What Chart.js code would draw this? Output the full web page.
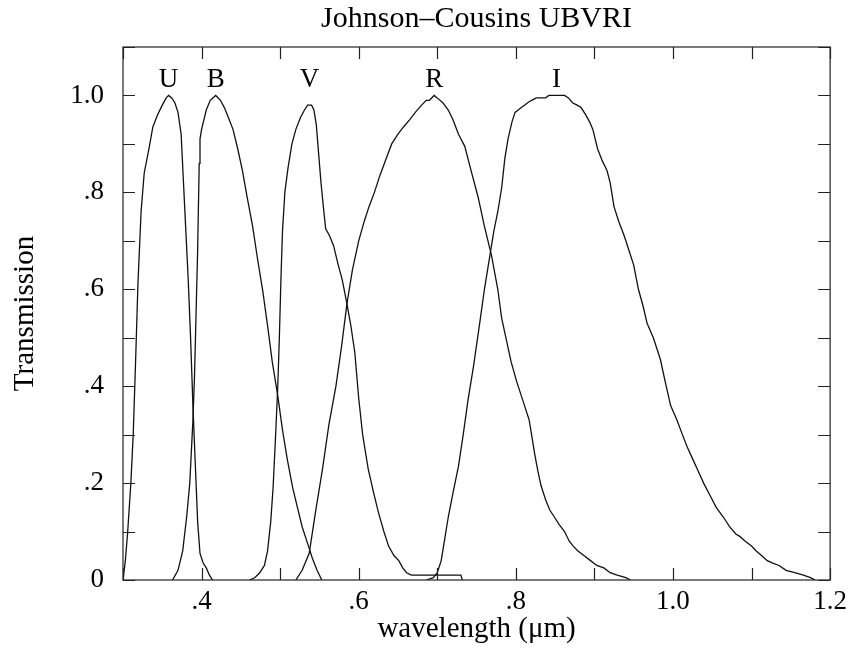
<!DOCTYPE html>
<html lang="en">
<head>
<meta charset="UTF-8">
<title>Johnson–Cousins UBVRI</title>
<style>
  html, body { margin: 0; padding: 0; background: #fff; }
  #Chart { width: 853px; height: 653px; }
</style>
</head>
<body>
<div id="Chart"><canvas id="myChart"></canvas></div>
<script src="https://cdn.jsdelivr.net/npm/chart.js"></script>
<script>
const chartTitle = 'Johnson–Cousins UBVRI';
// filter names (drawn above each peak)
const bandNames = ['U', 'B', 'V', 'R', 'I'];

// wavelength (um) / transmission
const uWave  = [0.300, 0.303, 0.306, 0.310, 0.313, 0.316, 0.319, 0.323, 0.327, 0.333, 0.338, 0.344, 0.350, 0.355, 0.358,
                0.362, 0.366, 0.370, 0.374, 0.377, 0.380, 0.383, 0.386, 0.389, 0.392, 0.395, 0.398, 0.402, 0.406, 0.410, 0.414];
const uTrans = [0.00, 0.04, 0.10, 0.20, 0.30, 0.45, 0.61, 0.76, 0.84, 0.89, 0.935, 0.96, 0.98, 0.995, 1.00,
                0.995, 0.985, 0.965, 0.92, 0.82, 0.72, 0.62, 0.50, 0.36, 0.24, 0.12, 0.055, 0.035, 0.025, 0.01, 0.00];

const bWave  = [0.363, 0.370, 0.376, 0.381, 0.385, 0.389, 0.391, 0.393, 0.395, 0.397, 0.398, 0.400, 0.403, 0.406, 0.411,
                0.418, 0.424, 0.429, 0.434, 0.440, 0.446, 0.452, 0.458, 0.465, 0.471, 0.478, 0.484, 0.490, 0.497,
                0.503, 0.509, 0.516, 0.522, 0.528, 0.535, 0.541, 0.547, 0.553];
const bTrans = [0.00, 0.02, 0.06, 0.13, 0.20, 0.33, 0.42, 0.55, 0.68, 0.86, 0.91, 0.93, 0.95, 0.97, 0.99,
                1.00, 0.99, 0.975, 0.955, 0.93, 0.89, 0.845, 0.79, 0.73, 0.665, 0.595, 0.525, 0.45, 0.38,
                0.31, 0.25, 0.19, 0.15, 0.11, 0.075, 0.045, 0.02, 0.00];

const vWave  = [0.461, 0.468, 0.474, 0.480, 0.484, 0.488, 0.491, 0.494, 0.497, 0.499, 0.501, 0.503, 0.506, 0.510, 0.515,
                0.520, 0.526, 0.531, 0.535, 0.540, 0.543, 0.546, 0.549, 0.552, 0.555, 0.558, 0.563, 0.568, 0.574,
                0.579, 0.585, 0.590, 0.595, 0.600, 0.605, 0.612, 0.619, 0.625, 0.632, 0.638, 0.645, 0.651, 0.656,
                0.661, 0.667, 0.700, 0.730, 0.732];
const vTrans = [0.00, 0.005, 0.015, 0.03, 0.06, 0.12, 0.19, 0.29, 0.40, 0.50, 0.62, 0.72, 0.80, 0.85, 0.90,
                0.93, 0.955, 0.97, 0.98, 0.98, 0.97, 0.94, 0.88, 0.82, 0.77, 0.725, 0.71, 0.69, 0.65,
                0.62, 0.57, 0.525, 0.47, 0.375, 0.30, 0.23, 0.18, 0.14, 0.10, 0.07, 0.05, 0.04, 0.025,
                0.015, 0.01, 0.01, 0.01, 0.00];

const rWave  = [0.520, 0.528, 0.537, 0.545, 0.554, 0.562, 0.571, 0.578, 0.585, 0.592, 0.600, 0.607, 0.613, 0.620, 0.627,
                0.635, 0.642, 0.650, 0.657, 0.665, 0.672, 0.680, 0.686, 0.690, 0.696, 0.700, 0.707, 0.714, 0.720,
                0.727, 0.735, 0.743, 0.752, 0.760, 0.769, 0.777, 0.782, 0.786, 0.794, 0.801, 0.807, 0.813, 0.817,
                0.820, 0.824, 0.828, 0.832, 0.838, 0.843, 0.849, 0.855, 0.862, 0.868, 0.873, 0.879, 0.887, 0.895,
                0.903, 0.912, 0.920, 0.929, 0.940, 0.946];
const rTrans = [0.00, 0.02, 0.055, 0.14, 0.23, 0.32, 0.40, 0.48, 0.57, 0.64, 0.70, 0.74, 0.77, 0.80, 0.835,
                0.87, 0.90, 0.92, 0.935, 0.95, 0.965, 0.98, 0.99, 0.99, 1.00, 0.995, 0.985, 0.97, 0.95,
                0.92, 0.895, 0.845, 0.79, 0.73, 0.67, 0.60, 0.54, 0.51, 0.45, 0.41, 0.38, 0.35, 0.33,
                0.30, 0.26, 0.225, 0.195, 0.165, 0.145, 0.13, 0.115, 0.10, 0.08, 0.07, 0.06, 0.05, 0.04,
                0.03, 0.025, 0.015, 0.01, 0.005, 0.00];

const iWave  = [0.686, 0.695, 0.700, 0.705, 0.710, 0.714, 0.720, 0.727, 0.733, 0.739, 0.746, 0.754, 0.760, 0.767, 0.772,
                0.777, 0.782, 0.786, 0.790, 0.795, 0.799, 0.803, 0.807, 0.811, 0.815, 0.820, 0.826, 0.832, 0.838,
                0.842, 0.848, 0.855, 0.862, 0.867, 0.872, 0.878, 0.883, 0.889, 0.894, 0.898, 0.904, 0.910, 0.916,
                0.920, 0.925, 0.931, 0.938, 0.944, 0.950, 0.956, 0.962, 0.967, 0.975, 0.984, 0.990, 0.997, 1.005,
                1.012, 1.018, 1.025, 1.032, 1.039, 1.047, 1.055, 1.064, 1.072, 1.080, 1.085, 1.092, 1.100, 1.106,
                1.113, 1.120, 1.127, 1.135, 1.144, 1.155, 1.166, 1.175, 1.181];
const iTrans = [0.00, 0.005, 0.015, 0.04, 0.09, 0.13, 0.18, 0.235, 0.30, 0.37, 0.44, 0.53, 0.60, 0.67, 0.72,
                0.76, 0.81, 0.87, 0.91, 0.945, 0.965, 0.97, 0.975, 0.98, 0.985, 0.99, 0.995, 0.995, 0.995,
                1.00, 1.00, 1.00, 1.00, 0.995, 0.985, 0.98, 0.975, 0.96, 0.945, 0.93, 0.89, 0.865, 0.845,
                0.82, 0.77, 0.74, 0.71, 0.68, 0.65, 0.60, 0.565, 0.53, 0.50, 0.455, 0.41, 0.36, 0.33,
                0.30, 0.275, 0.25, 0.225, 0.20, 0.175, 0.15, 0.13, 0.11, 0.095, 0.09, 0.08, 0.07, 0.06,
                0.05, 0.04, 0.035, 0.03, 0.02, 0.015, 0.01, 0.005, 0.00];

const waves  = [uWave, bWave, vWave, rWave, iWave];
const trans  = [uTrans, bTrans, vTrans, rTrans, iTrans];

const serif = '"Liberation Serif", "Times New Roman", serif';

function toPoints(w, t) {
  return w.map((x, i) => ({ x: x, y: t[i] }));
}

// labels only on every second tenth, no leading zero: 0 .2 .4 ... 1.0
function tickText(v) {
  const n = Math.round(v * 10);
  if (n % 2) return '';
  if (n === 0) return '0';
  if (n < 10) return '.' + n;
  return (n / 10).toFixed(1);
}

// box round the plot, inward ticks on all four sides, letters over the peaks,
// title centred over the plot area (not over the canvas)
const frameTicks = {
  id: 'frameTicks',
  afterDatasetsDraw(chart) {
    const { ctx, chartArea: a, scales: { x, y } } = chart;
    const len = 12;
    ctx.save();
    ctx.strokeStyle = '#222';
    ctx.lineWidth = 1.2;
    ctx.strokeRect(a.left, a.top, a.right - a.left, a.bottom - a.top);
    ctx.beginPath();
    x.ticks.forEach(t => {
      const px = Math.round(x.getPixelForValue(t.value)) + 0.5;
      ctx.moveTo(px, a.bottom); ctx.lineTo(px, a.bottom - len);
      ctx.moveTo(px, a.top);    ctx.lineTo(px, a.top + len);
    });
    y.ticks.forEach(t => {
      const py = Math.round(y.getPixelForValue(t.value)) + 0.5;
      ctx.moveTo(a.left, py);  ctx.lineTo(a.left + len, py);
      ctx.moveTo(a.right, py); ctx.lineTo(a.right - len, py);
    });
    ctx.stroke();

    ctx.fillStyle = '#000';
    ctx.textAlign = 'center';
    ctx.textBaseline = 'middle';
    ctx.font = '30px ' + serif;
    ctx.fillText(chartTitle, (a.left + a.right) / 2, 19);

    ctx.font = '27px ' + serif;
    chart.data.datasets.forEach(ds => {
      const top = Math.max(...ds.data.map(p => p.y));
      const xs = ds.data.filter(p => p.y === top).map(p => p.x);
      const peak = xs.reduce((s, v) => s + v, 0) / xs.length;
      ctx.fillText(ds.label, x.getPixelForValue(peak), y.getPixelForValue(1.033));
    });
    ctx.restore();
  }
};

const ctx = document.getElementById('myChart');
new Chart(ctx, {
  type: 'line',
  data: {
    datasets: bandNames.map((name, i) => ({
      label: name,
      data: toPoints(waves[i], trans[i]),
      borderColor: '#111',
      borderWidth: 1.3,
      pointRadius: 0,
      tension: 0,
      fill: false
    }))
  },
  options: {
    responsive: true,
    maintainAspectRatio: false,
    animation: false,
    layout: { padding: { left: 0, right: 21, top: 47, bottom: 0 } },
    plugins: {
      legend: { display: false },
      tooltip: { enabled: false },
      title: { display: false }
    },
    scales: {
      x: {
        type: 'linear',
        min: 0.3,
        max: 1.2,
        grid: { display: false, drawTicks: false },
        border: { display: false },
        ticks: {
          stepSize: 0.1,
          autoSkip: false,
          maxRotation: 0,
          padding: 6,
          color: '#000',
          font: { family: serif, size: 27 },
          callback: v => tickText(v)
        },
        title: {
          display: true,
          text: 'wavelength (μm)',
          color: '#000',
          font: { family: serif, size: 29 },
          padding: { top: 0, bottom: 6.6 }
        },
        afterFit: s => { s.height = 73; }
      },
      y: {
        min: 0,
        max: 1.1,
        grid: { display: false, drawTicks: false },
        border: { display: false },
        ticks: {
          stepSize: 0.1,
          autoSkip: false,
          padding: 19,
          color: '#000',
          font: { family: serif, size: 27 },
          callback: v => tickText(v)
        },
        title: {
          display: true,
          text: 'Transmission',
          color: '#000',
          font: { family: serif, size: 29 },
          padding: { top: 7.6, bottom: 0 }
        },
        afterFit: s => { s.width = 123; }
      }
    }
  },
  plugins: [frameTicks]
});
</script>
</body>
</html>
